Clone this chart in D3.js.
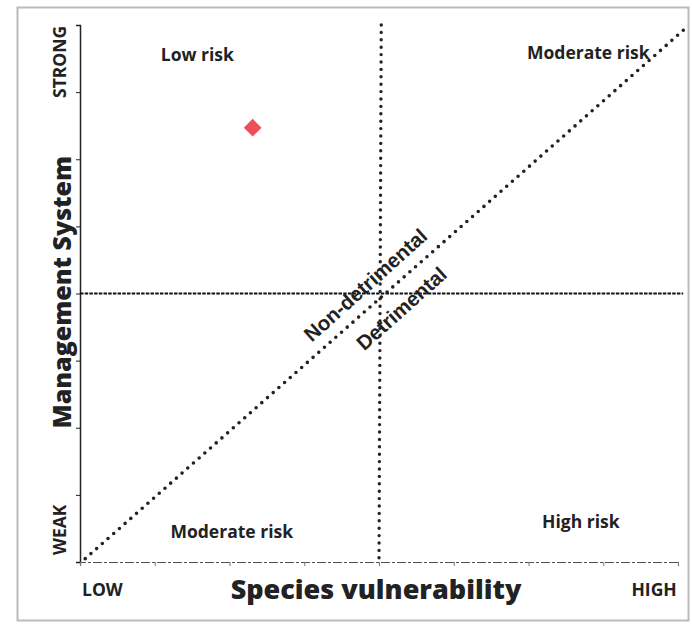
<!DOCTYPE html>
<html>
<head>
<meta charset="utf-8">
<script src="https://cdn.jsdelivr.net/npm/d3@7"></script>
<style>
  body { margin: 0; background: #fff; }
  svg text { fill: #222; }
</style>
</head>
<body>
<div id="chart"></div>
<script>
// quadrant chart: species vulnerability vs management system
var xTicks = [0, 1, 2, 3, 4, 5, 6, 7, 8];
var yTicks = [0, 1, 2, 3, 4, 5, 6, 7, 8];
var axisEnds = ["LOW", "HIGH"];
var yEnds = ["WEAK", "STRONG"];
var midX = 4, midY = 4;
var diagonal = [[0.07, 0.05], [8.13, 7.98]];
var pointX = [2.31];
var pointY = [6.47];
var regionNames = ["Low risk", "Moderate risk", "Moderate risk", "High risk"];
var regionX = [1.57, 6.8, 2.03, 6.7];
var regionY = [7.55, 7.58, 0.45, 0.6];

var margin = {left: 80, top: 25, right: 14, bottom: 63},
    width = 692 - margin.left - margin.right,
    height = 625 - margin.top - margin.bottom;

var svg = d3.select("#chart").append("svg")
    .attr("width", 692)
    .attr("height", 625);

// scanned-page frame
svg.append("rect")
    .attr("x", 17.5).attr("y", 7.5)
    .attr("width", 671).attr("height", 613)
    .attr("fill", "none")
    .attr("stroke", "#bbb")
    .attr("stroke-width", 2);

var x = d3.scaleLinear().domain([0, 8]).range([0, 598]),
    y = d3.scaleLinear().domain([0, 8]).range([537, 0]);

var g = svg.append("g")
    .attr("transform", "translate(" + margin.left + "," + margin.top + ")");

// y axis
var yAxis = g.append("g")
    .call(d3.axisLeft(y).tickValues(yTicks).tickSize(4).tickFormat(""));
yAxis.select(".domain").attr("stroke", "#222").attr("stroke-width", 1.5);
yAxis.selectAll(".tick line").attr("stroke", "#222");

// x axis (faint, broken in the scan)
var xAxis = g.append("g")
    .attr("transform", "translate(0," + y(0) + ")")
    .call(d3.axisBottom(x).tickValues(xTicks).tickSize(4).tickFormat(""));
xAxis.select(".domain").attr("stroke", "#555").attr("stroke-width", 1.2)
    .attr("stroke-dasharray", "9 2 3 2");
xAxis.selectAll(".tick line").attr("stroke", "#777");

var line = d3.line().x(function(d) { return x(d[0]); }).y(function(d) { return y(d[1]); });

// horizontal divider
g.append("path")
    .attr("d", line([[0, midY], [8.07, midY]]))
    .attr("stroke", "#111").attr("stroke-width", 2.2)
    .attr("stroke-dasharray", "3.5 1.2")
    .attr("fill", "none");

// vertical dotted divider
g.append("path")
    .attr("d", line([[midX + 0.03, 8], [midX, 0]]))
    .attr("stroke", "#222").attr("stroke-width", 3.4)
    .attr("stroke-linecap", "round")
    .attr("stroke-dasharray", "0 7.4")
    .attr("fill", "none");

// diagonal dotted line
g.append("path")
    .attr("d", line(diagonal))
    .attr("stroke", "#222").attr("stroke-width", 3.6)
    .attr("stroke-linecap", "round")
    .attr("stroke-dasharray", "0 7.6")
    .attr("fill", "none");

// point
g.selectAll(".pt")
    .data(pointX)
  .enter().append("path")
    .attr("class", "pt")
    .attr("transform", function(d, i) { return "translate(" + x(d) + "," + y(pointY[i]) + ")"; })
    .attr("d", d3.symbol().type(d3.symbolDiamond2).size(200))
    .attr("fill", "#ef4f59");

// region labels
g.selectAll(".region")
    .data(regionNames)
  .enter().append("text")
    .attr("class", "region")
    .attr("x", function(d, i) { return x(regionX[i]); })
    .attr("y", function(d, i) { return y(regionY[i]); })
    .attr("dy", "0.35em")
    .attr("text-anchor", "middle")
    .style("font-family", "'Open Sans', sans-serif")
    .style("font-size", "17.5px")
    .style("font-weight", "bold")
    .text(function(d) { return d; });

// diagonal labels
var angle = -Math.atan2(y(0) - y(8), x(8) - x(0)) * 180 / Math.PI;
g.append("text")
    .attr("transform", "translate(" + x(3.93) + "," + y(3.99) + ") rotate(" + angle + ")")
    .attr("text-anchor", "middle")
    .attr("dy", "-0.25em")
    .style("font-family", "'Liberation Sans', Arial, sans-serif")
    .style("font-size", "20.5px")
    .style("font-weight", "bold")
    .text("Non-detrimental");
g.append("text")
    .attr("transform", "translate(" + x(4.2) + "," + y(3.9) + ") rotate(" + angle + ")")
    .attr("text-anchor", "middle")
    .attr("dy", "0.9em")
    .style("font-family", "'Liberation Sans', Arial, sans-serif")
    .style("font-size", "20.5px")
    .style("font-weight", "bold")
    .text("Detrimental");

// axis end labels
g.selectAll(".xend")
    .data(axisEnds)
  .enter().append("text")
    .attr("class", "xend")
    .attr("x", function(d, i) { return i === 0 ? x(0.3) : x(7.68); })
    .attr("y", y(0) + 28)
    .attr("dy", "0.35em")
    .attr("text-anchor", "middle")
    .style("font-family", "'Open Sans', sans-serif")
    .style("font-size", "17.5px")
    .style("font-weight", "bold")
    .text(function(d) { return d; });

g.selectAll(".yend")
    .data(yEnds)
  .enter().append("text")
    .attr("class", "yend")
    .attr("transform", function(d, i) {
        return "translate(-20," + (i === 0 ? y(0.48) : y(7.45)) + ") rotate(-90)";
    })
    .attr("dy", "0.35em")
    .attr("text-anchor", "middle")
    .style("font-family", "'Open Sans', sans-serif")
    .style("font-size", "17.5px")
    .style("font-weight", "bold")
    .text(function(d) { return d; });

// axis titles
g.append("text")
    .attr("x", x(3.96))
    .attr("y", y(0) + 28)
    .attr("dy", "0.35em")
    .attr("text-anchor", "middle")
    .style("font-family", "'Open Sans', sans-serif")
    .style("font-size", "27px")
    .style("font-weight", "800")
    .text("Species vulnerability");

g.append("text")
    .attr("transform", "translate(-9," + y(4.02) + ") rotate(-90)")
    .attr("text-anchor", "middle")
    .style("font-family", "'Open Sans', sans-serif")
    .style("font-size", "25px")
    .style("font-weight", "800")
    .text("Management System");
</script>
</body>
</html>
